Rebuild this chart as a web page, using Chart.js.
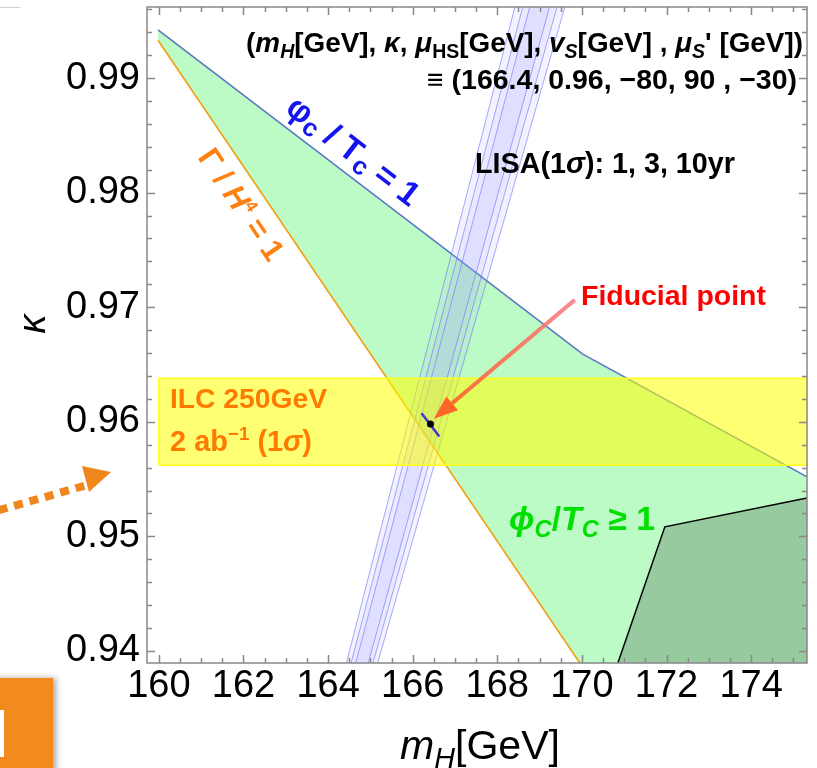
<!DOCTYPE html>
<html>
<head>
<meta charset="utf-8">
<script src="https://cdn.jsdelivr.net/npm/chart.js@4/dist/chart.umd.min.js"></script>
<style>
html, body { margin: 0; padding: 0; background: #fff; }
#wrap { position: relative; width: 817px; height: 768px; }
</style>
</head>
<body>
<div id="wrap"><canvas id="c" width="817" height="768"></canvas></div>
<script>
// axis ranges and ticks
var xMin = 159.72, xMax = 175.32;
var yMin = 0.93895, yMax = 0.9962;
var xTicks = [160, 162, 164, 166, 168, 170, 172, 174];
var yTicks = [0.94, 0.95, 0.96, 0.97, 0.98, 0.99];

// phi_c/T_c = 1 boundary
var phiMH = [159.98, 170.02, 175.32];
var phiKappa = [0.9942, 0.9659, 0.9552];
// Gamma/H^4 = 1 boundary
var gamMH = [159.98, 169.95];
var gamKappa = [0.9933, 0.93895];
// region phi_c/T_c >= 1
var greenMH = [159.98, 170.02, 175.32, 175.32, 169.95, 159.98];
var greenKappa = [0.9942, 0.9659, 0.9552, 0.93895, 0.93895, 0.9933];
// dark region (lower right)
var darkMH = [170.85, 171.96, 175.32, 175.32];
var darkKappa = [0.93895, 0.95083, 0.95336, 0.93895];
// ILC 250GeV band
var ilcMH = [160.0, 175.32];
var ilcKappa = [0.9562, 0.9638];
// LISA bands: edges at kappa = 0.93 and 1.0  [left, right]
var lisaKappa = [0.93, 1.0];
var lisa1yrLo = [163.81, 164.48], lisa1yrHi = [168.68, 169.89];
var lisa3yrLo = [163.91, 164.38], lisa3yrHi = [168.87, 169.70];
var lisa10yrLo = [164.01, 164.28], lisa10yrHi = [169.04, 169.52];
// fiducial point and its small error segment
var fidMH = 166.42, fidKappa = 0.9598;
var fidSegMH = [166.21, 166.63];
var fidSegKappa = [0.96074, 0.95871];
// arrow tail / head
var arrowMH = [169.83, 166.50];
var arrowKappa = [0.97064, 0.96026];

function pts(xs, ys) {
    var out = [];
    for (var i = 0; i < xs.length; i++) out.push({x: xs[i], y: ys[i]});
    return out;
}
function band(lo, hi) {
    return [
        {x: lo[0], y: lisaKappa[0]}, {x: lo[1], y: lisaKappa[0]},
        {x: hi[1], y: lisaKappa[1]}, {x: hi[0], y: lisaKappa[1]},
        {x: lo[0], y: lisaKappa[0]}
    ];
}
function lineSet(data, color, width) {
    return {data: data, showLine: true, fill: false, borderColor: color, borderWidth: width,
            pointRadius: 0, tension: 0};
}
function fillSet(data, bg, border, bw) {
    return {data: data, showLine: true, fill: 'shape', backgroundColor: bg,
            borderColor: border || 'transparent', borderWidth: bw || 0, pointRadius: 0, tension: 0};
}

var FAM = '"Liberation Sans", Arial, Helvetica, sans-serif';
function fontOf(r, size) {
    return (r.i ? 'italic ' : '') + (r.b ? 'bold ' : '') + (size * (r.s || 1)).toFixed(2) + 'px ' + FAM;
}
function runsWidth(ctx, runs, size) {
    var w = 0;
    runs.forEach(function (r) { ctx.font = fontOf(r, size); w += ctx.measureText(r.t).width; });
    return w;
}
// draw text runs fitted to a target width; (x, y) = anchor, y is vertical centre
function drawRuns(ctx, runs, x, y, width, align, color) {
    var size = width * 100 / runsWidth(ctx, runs, 100);
    var w = runsWidth(ctx, runs, size);
    var cx = align === 'right' ? x - w : (align === 'center' ? x - w / 2 : x);
    var base = y + 0.36 * size;
    ctx.textBaseline = 'alphabetic';
    ctx.textAlign = 'left';
    runs.forEach(function (r) {
        ctx.font = fontOf(r, size);
        ctx.fillStyle = r.c || color;
        ctx.fillText(r.t, cx, base + (r.dy || 0) * size);
        cx += ctx.measureText(r.t).width;
    });
}
function drawRotated(ctx, runs, cx, cy, width, angleDeg, color) {
    ctx.save();
    ctx.translate(cx, cy);
    ctx.rotate(angleDeg * Math.PI / 180);
    drawRuns(ctx, runs, 0, 0, width, 'center', color);
    ctx.restore();
}

var labelPlugin = {
    id: 'labels',
    afterDatasetsDraw: function (chart) {
        var ctx = chart.ctx, xs = chart.scales.x, ys = chart.scales.y;
        ctx.save();
        // fiducial arrow
        var x0 = xs.getPixelForValue(arrowMH[0]), y0 = ys.getPixelForValue(arrowKappa[0]);
        var x1 = xs.getPixelForValue(arrowMH[1]), y1 = ys.getPixelForValue(arrowKappa[1]);
        var ang = Math.atan2(y1 - y0, x1 - x0);
        var hl = 24, hw = 9;
        var bx = x1 - hl * Math.cos(ang), by = y1 - hl * Math.sin(ang);
        var g = ctx.createLinearGradient(x0, y0, x1, y1);
        g.addColorStop(0, 'rgba(245,120,130,0.85)');
        g.addColorStop(1, 'rgba(255,100,40,0.95)');
        ctx.strokeStyle = g;
        ctx.lineWidth = 4;
        ctx.beginPath(); ctx.moveTo(x0, y0); ctx.lineTo(bx, by); ctx.stroke();
        ctx.fillStyle = '#ff6628';
        ctx.beginPath();
        ctx.moveTo(x1, y1);
        ctx.lineTo(bx + hw * Math.sin(ang), by - hw * Math.cos(ang));
        ctx.lineTo(bx - hw * Math.sin(ang), by + hw * Math.cos(ang));
        ctx.closePath(); ctx.fill();

        // header
        drawRuns(ctx, [
            {t: '(', b: 1}, {t: 'm', b: 1, i: 1}, {t: 'H', b: 1, i: 1, s: 0.7, dy: 0.2},
            {t: '[GeV], ', b: 1}, {t: 'κ', b: 1, i: 1}, {t: ', ', b: 1},
            {t: 'μ', b: 1, i: 1}, {t: 'HS', b: 1, s: 0.7, dy: 0.2}, {t: '[GeV], ', b: 1},
            {t: 'v', b: 1, i: 1}, {t: 'S', b: 1, i: 1, s: 0.7, dy: 0.2}, {t: '[GeV] , ', b: 1},
            {t: 'μ', b: 1, i: 1}, {t: 'S', b: 1, i: 1, s: 0.7, dy: 0.2}, {t: '\' [GeV])', b: 1}
        ], 803, 42, 557, 'right', '#000');
        drawRuns(ctx, [{t: '≡ (166.4, 0.96, −80, 90 , −30)', b: 1}], 797, 79, 370, 'right', '#000');
        drawRuns(ctx, [{t: 'LISA(1', b: 1}, {t: 'σ', b: 1, i: 1}, {t: '): 1, 3, 10yr', b: 1}],
            475, 163, 260, 'left', '#000');
        drawRuns(ctx, [{t: 'Fiducial point', b: 1}], 581, 295, 185, 'left', '#ff0000');
        drawRuns(ctx, [{t: 'ILC 250GeV', b: 1}], 170, 398, 157, 'left', '#ff7a00');
        drawRuns(ctx, [{t: '2 ab', b: 1}, {t: '−1', b: 1, s: 0.65, dy: -0.4}, {t: ' (1', b: 1},
            {t: 'σ', b: 1, i: 1}, {t: ')', b: 1}], 170, 441, 142, 'left', '#ff7a00');
        drawRuns(ctx, [{t: 'ϕ', b: 1, i: 1}, {t: 'C', b: 1, i: 1, s: 0.7, dy: 0.2}, {t: '/', b: 1},
            {t: 'T', b: 1, i: 1}, {t: 'C', b: 1, i: 1, s: 0.7, dy: 0.2}, {t: ' ≥ 1', b: 1}],
            509, 518, 146, 'left', '#00e000');
        drawRotated(ctx, [{t: 'φ', b: 1}, {t: 'c', b: 1, s: 0.75, dy: 0.15}, {t: ' / ', b: 1},
            {t: 'T', b: 1}, {t: 'c', b: 1, s: 0.75, dy: 0.15}, {t: ' = 1', b: 1}],
            354, 150, 158, 37.5, '#1414f0');
        drawRotated(ctx, [{t: 'Γ', b: 1}, {t: ' / ', b: 1}, {t: 'H', b: 1, i: 1},
            {t: '4', b: 1, s: 0.55, dy: -0.4}, {t: ' = 1', b: 1}],
            242, 204, 128, 56, '#ff7f10');

        // axis titles
        drawRuns(ctx, [{t: 'm', i: 1}, {t: 'H', i: 1, s: 0.7, dy: 0.22}, {t: '[GeV]'}],
            480, 744, 160, 'center', '#000');
        drawRotated(ctx, [{t: 'κ', i: 1}], 31, 324, 19, -90, '#000');
        ctx.restore();
    },
    afterDraw: function (chart) {
        var ctx = chart.ctx, a = chart.chartArea, xs = chart.scales.x, ys = chart.scales.y;
        ctx.save();
        ctx.strokeStyle = '#888';
        ctx.lineWidth = 1.5;
        var v, p, len;
        // minor/major ticks on all four sides
        for (v = 159.5; v <= xMax; v += 0.5) {
            if (v < xMin) continue;
            p = Math.round(xs.getPixelForValue(v)) + 0.5;
            len = (Math.abs(v - Math.round(v / 2) * 2) < 1e-6) ? 8 : 5;
            ctx.beginPath();
            ctx.moveTo(p, a.bottom); ctx.lineTo(p, a.bottom - len);
            ctx.moveTo(p, a.top); ctx.lineTo(p, a.top + len);
            ctx.stroke();
        }
        for (var k = 940; k <= 996; k += 2) {
            v = k / 1000;
            p = Math.round(ys.getPixelForValue(v)) + 0.5;
            len = (k % 10 === 0) ? 8 : 5;
            ctx.beginPath();
            ctx.moveTo(a.left, p); ctx.lineTo(a.left + len, p);
            ctx.moveTo(a.right, p); ctx.lineTo(a.right - len, p);
            ctx.stroke();
        }
        ctx.strokeRect(a.left, a.top, a.right - a.left, a.bottom - a.top);

        // slide decorations outside the plot
        ctx.strokeStyle = '#d0d0d0'; ctx.lineWidth = 1;
        ctx.beginPath(); ctx.moveTo(0, 7.5); ctx.lineTo(20, 7.5); ctx.stroke();
        ctx.fillStyle = '#f0871d';
        var dang = Math.atan2(-24, 84);
        for (var d = 0; d < 6; d++) {
            ctx.save();
            ctx.translate(3 + d * 16 * Math.cos(dang), 509 + d * 16 * Math.sin(dang));
            ctx.rotate(dang);
            ctx.fillRect(-4.5, -4, 9, 8);
            ctx.restore();
        }
        ctx.beginPath();
        ctx.moveTo(111, 472); ctx.lineTo(89, 492); ctx.lineTo(82, 466); ctx.closePath(); ctx.fill();
        ctx.shadowColor = 'rgba(0,0,0,0.35)'; ctx.shadowBlur = 6; ctx.shadowOffsetX = 3;
        ctx.fillStyle = '#f28a1e';
        ctx.fillRect(-10, 678, 63, 100);
        ctx.shadowColor = 'transparent';
        ctx.fillStyle = '#ffffff';
        ctx.fillRect(0, 710, 4, 47);
        ctx.restore();
    }
};

var bandFill = 'rgba(160,160,255,0.13)', bandLine = 'rgba(110,110,255,0.6)';
var datasets = [
    {data: [{x: fidMH, y: fidKappa}], showLine: false, pointRadius: 3.5, backgroundColor: '#000', borderWidth: 0},
    lineSet(pts(fidSegMH, fidSegKappa), '#3a3ad0', 2.5),
    fillSet(pts([ilcMH[0], ilcMH[1], ilcMH[1], ilcMH[0], ilcMH[0]],
                [ilcKappa[0], ilcKappa[0], ilcKappa[1], ilcKappa[1], ilcKappa[0]]),
            'rgba(255,255,0,0.55)', '#ffff20', 1.5),
    fillSet(band(lisa10yrLo, lisa10yrHi), bandFill, bandLine, 1),
    fillSet(band(lisa3yrLo, lisa3yrHi), bandFill, bandLine, 1),
    fillSet(band(lisa1yrLo, lisa1yrHi), bandFill, bandLine, 1),
    lineSet(pts(gamMH, gamKappa), '#f0a010', 1.6),
    lineSet(pts(phiMH, phiKappa), '#5b78c6', 1.6),
    lineSet(pts(darkMH.slice(0, 3), darkKappa.slice(0, 3)), '#000', 1.5),
    fillSet(pts(darkMH, darkKappa), 'rgb(151,202,158)'),
    fillSet(pts(greenMH, greenKappa), 'rgb(188,251,197)')
];

var tickFont = {family: FAM, size: 38};
new Chart(document.getElementById('c'), {
    type: 'scatter',
    data: {datasets: datasets},
    options: {
        responsive: false,
        animation: false,
        events: [],
        layout: {padding: {top: 7, right: 10, left: 0, bottom: 0}},
        plugins: {legend: {display: false}, tooltip: {enabled: false}},
        scales: {
            x: {
                type: 'linear', min: xMin, max: xMax,
                grid: {display: false, drawTicks: false}, border: {display: false},
                ticks: {font: tickFont, color: '#000', padding: 1, autoSkip: false, maxRotation: 0,
                        callback: function (v) { return String(v); }},
                afterBuildTicks: function (s) { s.ticks = xTicks.map(function (v) { return {value: v}; }); },
                afterFit: function (s) { s.height = 105; s.paddingLeft = 0; s.paddingRight = 0; }
            },
            y: {
                type: 'linear', min: yMin, max: yMax,
                grid: {display: false, drawTicks: false}, border: {display: false},
                ticks: {font: tickFont, color: '#000', padding: 7, autoSkip: false,
                        callback: function (v) { return v.toFixed(2); }},
                afterBuildTicks: function (s) { s.ticks = yTicks.map(function (v) { return {value: v}; }); },
                afterFit: function (s) { s.width = 147; s.paddingTop = 0; s.paddingBottom = 0; }
            }
        }
    },
    plugins: [labelPlugin]
});
</script>
</body>
</html>
